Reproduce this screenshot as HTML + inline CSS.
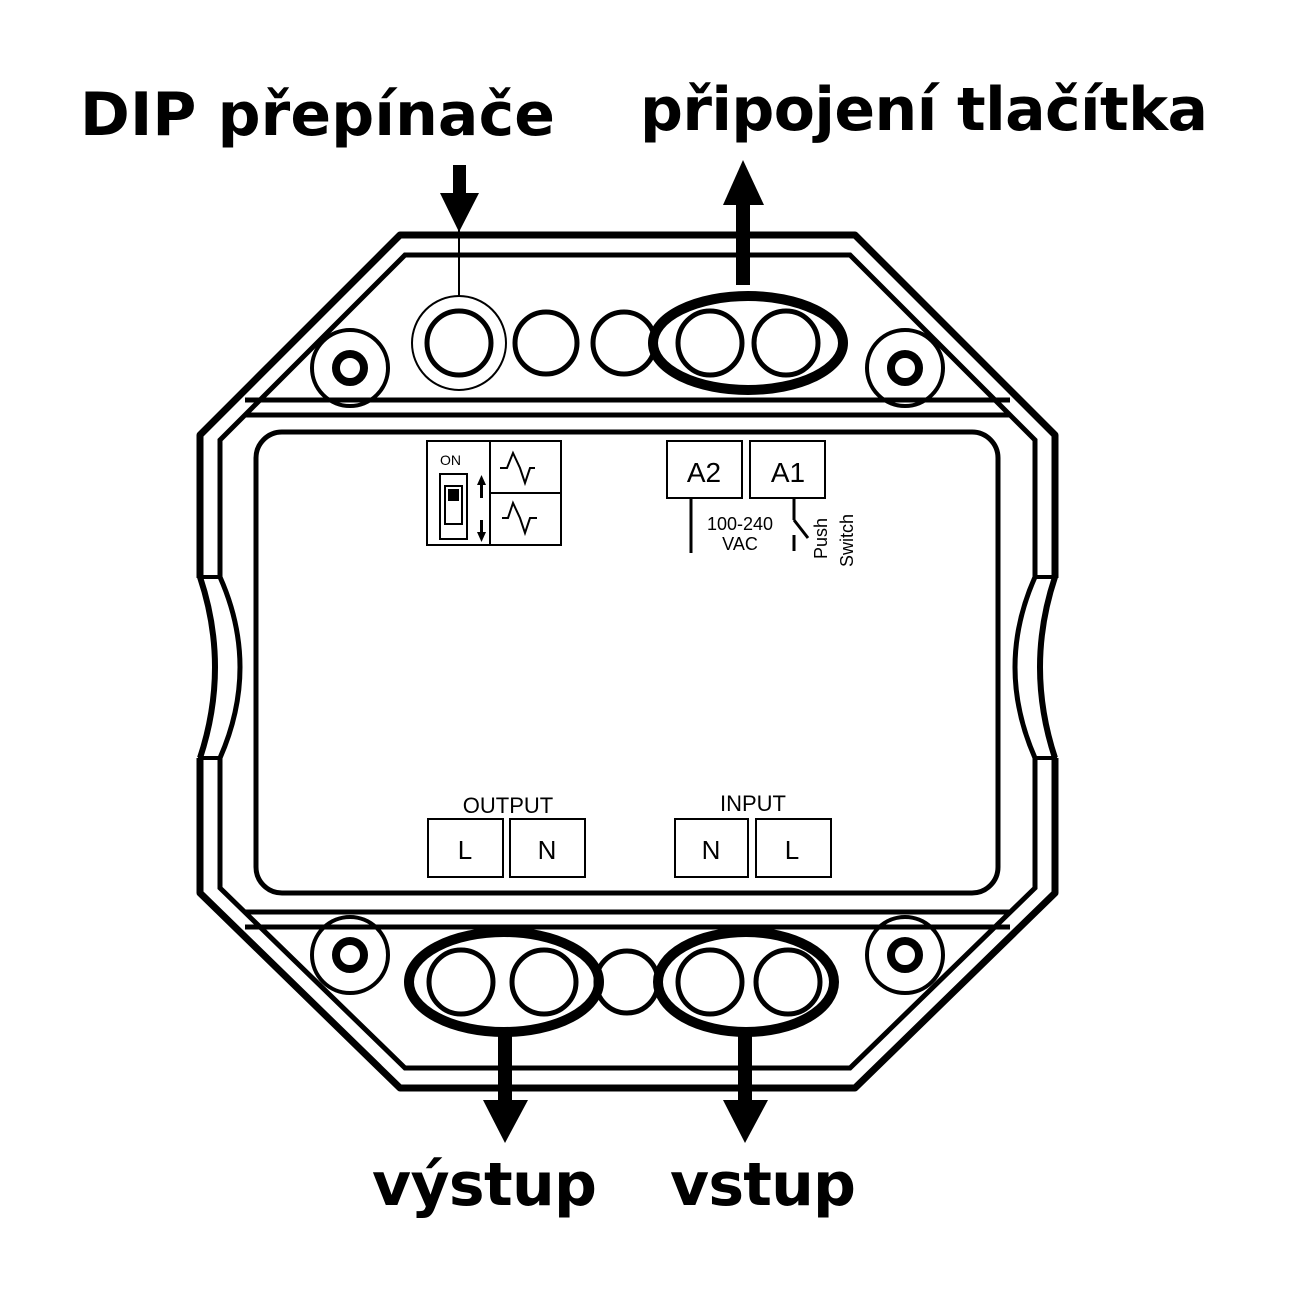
<!DOCTYPE html>
<html><head><meta charset="utf-8"><style>
html,body{margin:0;padding:0;background:#fff;}
svg{display:block}
.t{font-family:"DejaVu Sans","Liberation Sans",sans-serif;font-weight:bold;fill:#000}
.s{font-family:"Liberation Sans",sans-serif;fill:#000}
</style></head><body>
<svg width="1300" height="1300" viewBox="0 0 1300 1300" xmlns="http://www.w3.org/2000/svg">
<rect width="1300" height="1300" fill="#fff"/>
<g fill="none" stroke="#000">
<!-- outer octagon -->
<path d="M400,235 L855,235 L1055,435 L1055,893 L855,1088 L400,1088 L200,893 L200,435 Z" stroke-width="7" stroke-linejoin="round"/>
<path d="M405,255 L850,255 L1035,440 L1035,888 L850,1068 L405,1068 L220,888 L220,440 Z" stroke-width="5"/>
</g>
<!-- side bumps -->
<rect x="195" y="578" width="30" height="180" fill="#fff"/>
<rect x="1030" y="578" width="30" height="180" fill="#fff"/>
<g fill="none" stroke="#000">
<path d="M200,577 Q230,667 200,758" stroke-width="6"/>
<path d="M220,577 Q260,667 220,758" stroke-width="5"/>
<path d="M1055,577 Q1025,667 1055,758" stroke-width="6"/>
<path d="M1035,577 Q995,667 1035,758" stroke-width="5"/>
<line x1="198" y1="577" x2="222" y2="577" stroke-width="4"/>
<line x1="198" y1="758" x2="222" y2="758" stroke-width="4"/>
<line x1="1033" y1="577" x2="1057" y2="577" stroke-width="4"/>
<line x1="1033" y1="758" x2="1057" y2="758" stroke-width="4"/>
<!-- bands -->
<line x1="245" y1="400" x2="1010" y2="400" stroke-width="5"/>
<line x1="245" y1="415" x2="1010" y2="415" stroke-width="5"/>
<line x1="245" y1="912" x2="1010" y2="912" stroke-width="5"/>
<line x1="245" y1="927" x2="1010" y2="927" stroke-width="5"/>
<!-- inner rect -->
<rect x="256" y="432" width="742" height="461" rx="26" stroke-width="5"/>
<!-- screws -->
<g stroke-width="4">
<circle cx="350" cy="368" r="38"/><circle cx="905" cy="368" r="38"/>
<circle cx="350" cy="955" r="38"/><circle cx="905" cy="955" r="38"/>
</g>
<g stroke-width="8">
<circle cx="350" cy="368" r="14"/><circle cx="905" cy="368" r="14"/>
<circle cx="350" cy="955" r="14"/><circle cx="905" cy="955" r="14"/>
</g>
<!-- holes -->
<circle cx="459" cy="343" r="47" stroke-width="2"/>
<g stroke-width="5">
<circle cx="459" cy="343" r="32"/><circle cx="546" cy="343" r="31"/><circle cx="624" cy="343" r="31"/>
<circle cx="710" cy="343" r="32"/><circle cx="786" cy="343" r="32"/>
<circle cx="461" cy="982" r="32"/><circle cx="544" cy="982" r="32"/><circle cx="627" cy="982" r="31"/>
<circle cx="710" cy="982" r="32"/><circle cx="788" cy="982" r="32"/>
</g>
<g stroke-width="10">
<ellipse cx="748" cy="343" rx="95" ry="47"/>
<ellipse cx="504" cy="982" rx="95" ry="50"/>
<ellipse cx="746" cy="982" rx="88" ry="50"/>
</g>
<line x1="459" y1="228" x2="459" y2="296" stroke-width="2"/>
</g>
<!-- arrows -->
<rect x="453" y="165" width="13" height="30"/>
<polygon points="440,193 479,193 459,232"/>
<rect x="736" y="200" width="14" height="85"/>
<polygon points="723,205 764,205 743,160"/>
<rect x="498" y="1030" width="14" height="75"/>
<polygon points="483,1100 528,1100 505,1143"/>
<rect x="738" y="1030" width="14" height="75"/>
<polygon points="723,1100 768,1100 745,1143"/>
<!-- titles -->
<text class="t" x="80" y="135" font-size="60" textLength="475">DIP přepínače</text>
<text class="t" x="640" y="130" font-size="60" textLength="568">připojení tlačítka</text>
<text class="t" x="372" y="1205" font-size="60" textLength="225">výstup</text>
<text class="t" x="670" y="1205" font-size="60" textLength="186">vstup</text>
<!-- DIP box -->
<g fill="none" stroke="#000" stroke-width="2">
<rect x="427" y="441" width="134" height="104"/>
<line x1="490" y1="441" x2="490" y2="545"/>
<line x1="490" y1="493" x2="561" y2="493"/>
<rect x="440" y="474" width="27" height="65"/>
<rect x="445" y="486" width="17" height="38"/>
<path d="M500,468 L507,468 L513,453 L520,468 L525,483 L530,468 L535,468"/>
<path d="M502,518 L508,518 L513,503 L520,518 L525,533 L530,518 L537,518"/>
</g>
<rect x="448" y="489" width="11" height="12"/>
<rect x="480" y="483" width="3" height="15"/><polygon points="477,485 486,485 481.5,475"/>
<rect x="480" y="520" width="3" height="15"/><polygon points="477,532 486,532 481.5,542"/>
<text class="s" x="440" y="465" font-size="14">ON</text>
<!-- terminals -->
<g fill="none" stroke="#000" stroke-width="2">
<rect x="667" y="441" width="75" height="57"/>
<rect x="750" y="441" width="75" height="57"/>
<rect x="428" y="819" width="75" height="58"/>
<rect x="510" y="819" width="75" height="58"/>
<rect x="675" y="819" width="73" height="58"/>
<rect x="756" y="819" width="75" height="58"/>
</g>
<g stroke="#000" stroke-width="3" fill="none">
<line x1="691" y1="498" x2="691" y2="553"/>
<line x1="794" y1="498" x2="794" y2="520"/>
<line x1="794" y1="520" x2="808" y2="538"/>
<line x1="794" y1="535" x2="794" y2="551"/>
</g>
<text class="s" x="704" y="482" font-size="28" text-anchor="middle">A2</text>
<text class="s" x="788" y="482" font-size="28" text-anchor="middle">A1</text>
<text class="s" x="740" y="530" font-size="18" text-anchor="middle">100-240</text>
<text class="s" x="740" y="550" font-size="18" text-anchor="middle">VAC</text>
<text class="s" font-size="18" transform="translate(827,559) rotate(-90)">Push</text>
<text class="s" font-size="18" transform="translate(853,567) rotate(-90)">Switch</text>
<text class="s" x="508" y="813" font-size="22" text-anchor="middle">OUTPUT</text>
<text class="s" x="753" y="811" font-size="22" text-anchor="middle">INPUT</text>
<text class="s" x="465" y="859" font-size="26" text-anchor="middle">L</text>
<text class="s" x="547" y="859" font-size="26" text-anchor="middle">N</text>
<text class="s" x="711" y="859" font-size="26" text-anchor="middle">N</text>
<text class="s" x="792" y="859" font-size="26" text-anchor="middle">L</text>
</svg>
</body></html>
